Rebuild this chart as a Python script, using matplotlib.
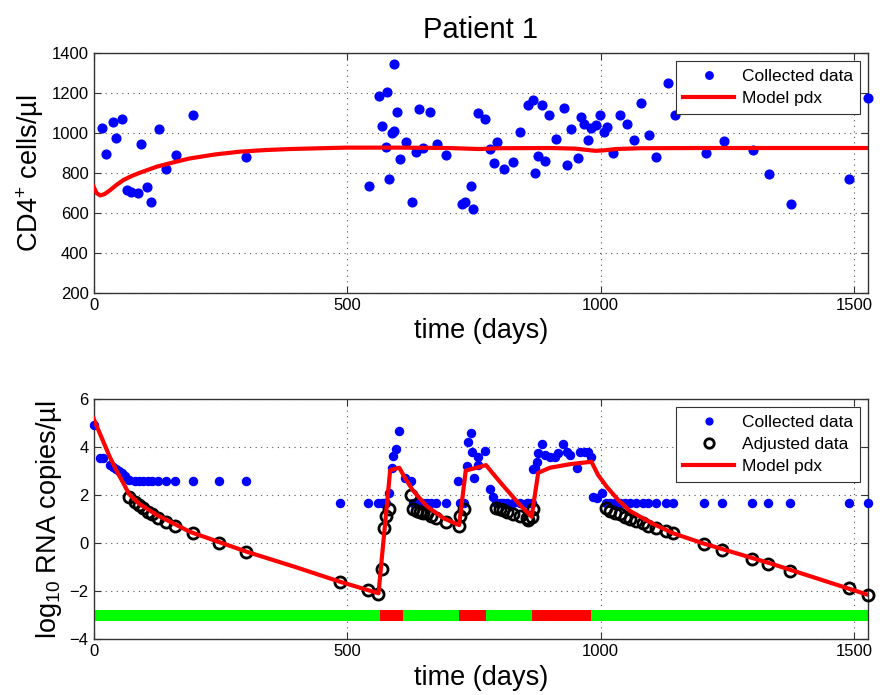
import matplotlib
matplotlib.use('Agg')
import matplotlib.pyplot as plt

plt.rcParams['font.family'] = ['Liberation Sans', 'DejaVu Sans']
plt.rcParams['mathtext.fontset'] = 'custom'
plt.rcParams['mathtext.rm'] = 'Liberation Sans'
plt.rcParams['mathtext.it'] = 'Liberation Sans:italic'

# CD4 counts (collected)
cd4_days = [16, 25, 38, 45, 57, 65, 73, 87, 93, 106, 113, 130, 143, 162, 197, 301,
            543, 563, 569, 577, 579, 583, 588, 592, 592, 598, 604, 617, 628, 636, 642,
            649, 663, 677, 696, 726, 732, 744, 748, 759, 772, 782, 789, 796, 810, 828,
            842, 856, 866, 870, 877, 885, 891, 899, 913, 927, 934, 941, 955, 962, 968,
            975, 982, 990, 999, 1006, 1013, 1025, 1039, 1053, 1066, 1080, 1095, 1110,
            1132, 1146, 1207, 1243, 1300, 1333, 1375, 1490, 1528]
cd4_vals = [1027, 893, 1053, 977, 1070, 715, 703, 702, 945, 732, 657, 1022, 820, 890, 1092, 880,
            735, 1187, 1035, 932, 1207, 772, 1000, 1010, 1345, 1105, 868, 953, 657, 905, 1122,
            927, 1105, 947, 888, 647, 655, 733, 620, 1098, 1072, 922, 848, 953, 820, 855,
            1003, 1142, 1165, 802, 885, 1142, 862, 1092, 968, 1125, 842, 1022, 873, 1078, 1047,
            965, 1023, 1040, 1092, 1003, 1028, 902, 1092, 1047, 965, 1152, 992, 882,
            1248, 1092, 900, 962, 915, 797, 643, 768, 1175]

# CD4 model
cd4_model_days = [0, 6, 13, 22, 33, 45, 59, 75, 92, 125, 160, 190, 240, 289, 340, 387,
                  450, 499, 600, 700, 760, 800, 900, 950, 975, 990, 1005, 1030, 1080, 1200, 1528]
cd4_model_vals = [732, 700, 688, 695, 715, 740, 765, 785, 802, 832, 855, 873, 893, 907, 915, 920,
                  924, 927, 927, 925, 920, 924, 925, 922, 915, 911, 913, 920, 924, 925, 925]

# viral load (collected, log10)
rna_days = [0, 13, 19, 33, 38, 45, 50, 56, 62, 66, 70, 82, 89, 98, 108, 115, 128, 143, 161,
            197, 248, 300, 486, 542, 562, 568, 573, 577, 583, 589, 591, 596, 603, 614, 627,
            631, 637, 644, 650, 657, 665, 675, 695, 719, 723, 730, 736, 739, 744, 747, 750,
            759, 759, 773, 782, 788, 794, 801, 808, 815, 828, 841, 854, 857, 864, 867, 870,
            874, 877, 884, 890, 900, 910, 917, 925, 933, 940, 953, 959, 969, 976, 982, 985,
            992, 1002, 1010, 1018, 1028, 1038, 1048, 1058, 1070, 1083, 1094, 1109, 1129, 1143,
            1204, 1240, 1298, 1331, 1373, 1490, 1528]
rna_vals = [4.93, 3.57, 3.55, 3.28, 3.2, 3.1, 3.02, 2.92, 2.8, 2.7, 2.62, 2.61, 2.61, 2.61, 2.61,
            2.61, 2.61, 2.61, 2.61, 2.61, 2.61, 2.61, 1.69, 1.69, 1.69, 1.69, 1.69, 1.69, 2.08,
            3.12, 3.64, 3.93, 4.68, 2.71, 2.61, 1.69, 1.69, 1.69, 1.69, 1.69, 1.69, 1.69, 1.69,
            2.61, 1.69, 1.69, 3.22, 4.23, 4.58, 3.79, 2.71, 3.61, 3.26, 3.85, 2.25, 1.92, 1.69,
            1.69, 1.69, 1.69, 1.69, 1.69, 1.69, 1.69, 1.69, 3.08, 3.12, 3.4, 3.75, 4.12, 3.68,
            3.61, 3.58, 3.75, 4.16, 3.82, 3.68, 3.12, 3.8, 3.8, 3.8, 3.58, 1.94, 1.87, 2.11,
            1.69, 1.69, 1.69, 1.69, 1.69, 1.69, 1.69, 1.69, 1.69, 1.69, 1.69, 1.69, 1.69, 1.69,
            1.69, 1.69, 1.69, 1.69, 1.69]

# adjusted data
adj_days = [70, 82, 89, 98, 108, 115, 128, 143, 161, 197, 248, 300, 486, 542, 562, 568, 573,
            577, 583, 626, 631, 637, 644, 650, 657, 665, 675, 695, 721, 723, 730, 794, 801,
            808, 815, 828, 841, 854, 857, 864, 867, 1010, 1018, 1028, 1038, 1048, 1058, 1070,
            1083, 1094, 1109, 1129, 1143, 1204, 1240, 1298, 1331, 1373, 1490, 1528]
adj_vals = [1.94, 1.73, 1.6, 1.46, 1.32, 1.21, 1.04, 0.9, 0.73, 0.42, 0.0, -0.37, -1.63, -1.95,
            -2.12, -1.07, 0.64, 1.14, 1.43, 2.01, 1.42, 1.36, 1.32, 1.28, 1.25, 1.14, 1.04, 0.87,
            0.72, 1.14, 1.42, 1.46, 1.42, 1.39, 1.32, 1.22, 1.14, 1.04, 0.97, 1.1, 1.42, 1.46,
            1.36, 1.28, 1.21, 1.11, 1.01, 0.93, 0.83, 0.73, 0.65, 0.51, 0.42, -0.03, -0.28,
            -0.67, -0.86, -1.14, -1.88, -2.15]

# viral load model
rna_model_days = [0, 16, 32, 46, 59, 70, 90, 125, 190, 302, 400, 486, 562, 585, 603, 615, 630,
                  657, 690, 721, 734, 774, 790, 808, 841, 864, 877, 900, 940, 982, 995, 1012,
                  1035, 1058, 1100, 1143, 1202, 1334, 1528]
rna_model_vals = [5.2, 4.4, 3.6, 3.0, 2.5, 2.05, 1.65, 1.18, 0.48, -0.35, -1.0, -1.6, -2.08,
                  3.05, 3.15, 2.7, 2.2, 1.55, 1.05, 0.76, 3.03, 3.26, 2.85, 2.4, 1.6, 1.11,
                  2.94, 3.15, 3.3, 3.4, 2.85, 2.36, 1.8, 1.35, 0.85, 0.42, 0.0, -0.83, -2.15]

# treatment phases (True = on therapy, green)
phase_start = [0, 565, 611, 721, 775, 864, 981]
phase_end = [565, 611, 721, 775, 864, 981, 1528]
phase_on = [True, False, True, False, True, False, True]

fig = plt.figure(figsize=(8.8, 6.95), dpi=100)
ax1 = fig.add_axes([0.1063, 0.5784, 0.8804, 0.3453])
ax2 = fig.add_axes([0.1063, 0.0801, 0.8804, 0.3453])

ax1.plot(cd4_days, cd4_vals, 'o', color='#0000ff', ms=6.3, mec='#0000ff',
         label='Collected data', clip_on=False, zorder=3)
ax1.plot(cd4_model_days, cd4_model_vals, '-', color='#ff0000', lw=3, label='Model pdx', zorder=4)
ax1.set_xlim(0, 1528)
ax1.set_ylim(200, 1400)
ax1.set_yticks(range(200, 1401, 200))
ax1.set_title('Patient 1', fontsize=21, pad=11)
ax1.set_ylabel('CD4$^{+}$ cells/µl', fontsize=19.5)
ax1.set_xlabel('time (days)', fontsize=19.5, labelpad=4)

colors = ['#00ff00' if on else '#ff0000' for on in phase_on]
ax2.broken_barh([(s, e - s) for s, e in zip(phase_start, phase_end)], (-3.22, 0.44),
                facecolors=colors, edgecolor='none', zorder=2)
ax2.plot(rna_days, rna_vals, 'o', color='#0000ff', ms=5.8, mec='#0000ff',
         label='Collected data', clip_on=False, zorder=3)
ax2.plot(adj_days, adj_vals, 'o', mfc='none', mec='black', mew=2, ms=8,
         label='Adjusted data', clip_on=False, zorder=4)
ax2.plot(rna_model_days, rna_model_vals, '-', color='#ff0000', lw=3, label='Model pdx', zorder=5)
ax2.set_xlim(0, 1528)
ax2.set_ylim(-4, 6)
ax2.set_yticks(range(-4, 7, 2))
ax2.set_ylabel('log$_{10}$ RNA copies/µl', fontsize=19.5)
ax2.set_xlabel('time (days)', fontsize=19.5, labelpad=4)

for ax in (ax1, ax2):
    ax.set_xticks([0, 500, 1000, 1500])
    ax.grid(True, linestyle=(0, (1, 4)), color='#555555', linewidth=0.8)
    ax.tick_params(direction='in', top=True, right=True, labelsize=12, length=5,
                   color='#333333')
    for sp in ax.spines.values():
        sp.set_color('#333333')
        sp.set_linewidth(1)
    leg = ax.legend(loc='upper right', fontsize=12.5, handlelength=2.9, handletextpad=0.45,
                    fancybox=False, framealpha=1, edgecolor='#333333', borderaxespad=0.45,
                    borderpad=0.45, labelspacing=0.4, markerscale=0.85)
    leg.get_frame().set_linewidth(0.8)

fig.savefig('out.png', dpi=100)
